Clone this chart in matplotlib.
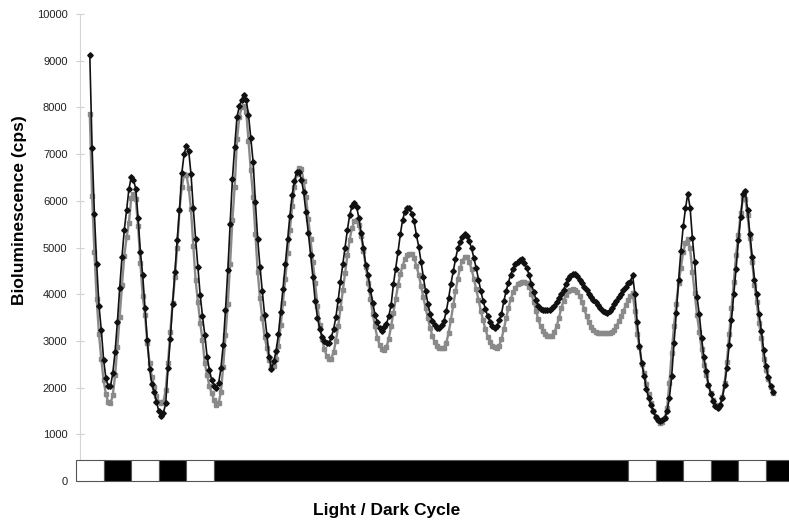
import numpy as np
import matplotlib
matplotlib.use("Agg")
import matplotlib.pyplot as plt

# hourly readings, hours 6..303 since start of recording
hours = np.arange(6, 304)

black_cps = [
    9120, 7130, 5720, 4640, 3750, 3230, 2600, 2200, 2030, 2030,
    2310, 2770, 3410, 4130, 4800, 5380, 5800, 6250, 6500, 6450,
    6250, 5630, 4900, 4410, 3700, 3010, 2400, 2070, 1900, 1700,
    1490, 1390, 1460, 1660, 2410, 3040, 3790, 4480, 5160, 5800,
    6590, 7000, 7180, 7070, 6570, 5840, 5180, 4590, 3980, 3530,
    3130, 2660, 2380, 2160, 2040, 2000, 2090, 2410, 2910, 3660,
    4510, 5500, 6460, 7160, 7800, 8020, 8160, 8270, 8160, 7840,
    7340, 6840, 5970, 5180, 4590, 4060, 3560, 3130, 2650, 2400,
    2560, 2780, 3140, 3620, 4120, 4640, 5180, 5680, 6130, 6430,
    6620, 6620, 6450, 6180, 5760, 5320, 4850, 4370, 3850, 3500,
    3250, 3090, 2990, 2960, 2960, 3080, 3250, 3510, 3880, 4270,
    4640, 5000, 5380, 5700, 5880, 5945, 5870, 5630, 5300, 4980,
    4620, 4420, 4100, 3820, 3560, 3400, 3270, 3220, 3300, 3370,
    3530, 3770, 4210, 4550, 4900, 5280, 5590, 5770, 5840, 5850,
    5720, 5560, 5270, 5020, 4700, 4375, 4060, 3800, 3570, 3420,
    3330, 3280, 3270, 3330, 3430, 3640, 3910, 4220, 4490, 4750,
    4980, 5110, 5230, 5290, 5240, 5130, 4980, 4770, 4560, 4310,
    4070, 3860, 3680, 3530, 3400, 3320, 3280, 3320, 3440, 3580,
    3850, 4060, 4250, 4420, 4550, 4640, 4700, 4730, 4745, 4670,
    4560, 4410, 4220, 4050, 3880, 3740, 3690, 3665, 3660, 3660,
    3670, 3700, 3750, 3840, 3920, 4000, 4090, 4220, 4330, 4400,
    4440, 4430, 4390, 4310, 4230, 4160, 4080, 4000, 3930, 3880,
    3830, 3770, 3700, 3650, 3610, 3600, 3640, 3710, 3800, 3860,
    3930, 4010, 4090, 4160, 4230, 4270, 4410, 4000, 3400, 2900,
    2520, 2250, 1970, 1780, 1620, 1500, 1380, 1300, 1280, 1300,
    1340, 1500, 1780, 2250, 2950, 3590, 4300, 4920, 5450, 5840,
    6150, 5850, 5200, 4690, 3940, 3570, 3060, 2650, 2350, 2060,
    1870, 1720, 1600, 1560, 1620, 1780, 2050, 2430, 2910, 3450,
    4010, 4550, 5150, 5650, 6150, 6200, 5800, 5280, 4800, 4310,
    4000, 3570, 3220, 2800, 2460, 2230, 2040, 1900,
]

gray_cps = [
    7850, 6100, 4900, 3900, 3140, 2610, 2160, 1860, 1690, 1660,
    1840, 2260, 2880, 3520, 4200, 4820, 5220, 5530, 6050, 6150,
    6030, 5450, 4660, 3960, 3560, 2950, 2520, 2220, 2020, 1810,
    1690, 1660, 1700, 1950, 2520, 3200, 3810, 4360, 5000, 5800,
    6290, 6570, 6550, 6280, 5820, 5040, 4300, 3840, 3390, 3020,
    2520, 2270, 2030, 1880, 1730, 1630, 1660, 1910, 2450, 3130,
    3790, 4650, 5590, 6300, 7320, 7790, 8000, 8020, 7910, 7270,
    6660, 6090, 5290, 4480, 3910, 3480, 3090, 2840, 2600, 2450,
    2470, 2620, 2900, 3330, 3820, 4330, 4880, 5380, 5880, 6300,
    6580, 6710, 6680, 6420, 6080, 5620, 5180, 4700, 4230, 3750,
    3350, 3030, 2820, 2680, 2610, 2620, 2760, 3000, 3320, 3700,
    4080, 4460, 4830, 5170, 5420, 5560, 5590, 5480, 5240, 4930,
    4590, 4240, 3900, 3580, 3310, 3070, 2910, 2820, 2810, 2870,
    3050, 3310, 3600, 3900, 4190, 4430, 4610, 4750, 4830, 4860,
    4860, 4780, 4610, 4420, 4180, 3940, 3700, 3480, 3270, 3100,
    2970, 2890, 2850, 2840, 2850, 2960, 3170, 3450, 3760, 4060,
    4330, 4560, 4720, 4800, 4790, 4690, 4530, 4330, 4110, 3880,
    3650, 3440, 3250, 3090, 2970, 2890, 2860, 2855, 2900, 3040,
    3250, 3480, 3700, 3890, 4040, 4140, 4210, 4250, 4268, 4268,
    4250, 4160, 4010, 3830, 3640, 3460, 3310, 3210, 3150, 3110,
    3100, 3110, 3180, 3320, 3500, 3700, 3860, 3980, 4060, 4100,
    4105, 4100, 4050, 3960, 3830, 3680, 3530, 3400, 3300, 3230,
    3190, 3170, 3160, 3160, 3160, 3160, 3170, 3190, 3240, 3320,
    3420, 3530, 3640, 3760, 3870, 3960, 4030, 3650, 3140, 2870,
    2510, 2320, 2080, 1860, 1660, 1500, 1380, 1300, 1240, 1260,
    1350, 1570, 2100, 2750, 3320, 3800, 4230, 4560, 4900, 5100,
    5190, 4980, 4480, 4020, 3560, 3200, 2820, 2480, 2260, 2060,
    1880, 1740, 1630, 1590, 1630, 1790, 2100, 2550, 3140, 3700,
    4260, 4850, 5270, 5730, 6050, 6040, 5690, 5200, 4690, 4200,
    3830, 3380, 3070, 2610, 2380, 2180, 2010, 1880,
]

# light / dark schedule (hours): edges and whether each block is dark
phase_edges = [0, 12, 24, 36, 48, 60, 240, 252, 264, 276, 288, 300, 312]
phase_dark = [0, 1, 0, 1, 0, 1, 0, 1, 0, 1, 0, 1]

y_ticks = list(range(0, 10001, 1000))

plt.rcParams["font.family"] = ["Liberation Sans", "DejaVu Sans"]

fig = plt.figure(figsize=(7.89, 5.23), dpi=100)
ax = fig.add_axes([80 / 789, 42 / 523, 709 / 789, 467 / 523])

ax.plot(hours, gray_cps, color="#8a8a8a", lw=1.7, marker="s", ms=3.0,
        mec="#8a8a8a", mfc="#8a8a8a", zorder=2)
ax.plot(hours, black_cps, color="#111111", lw=1.2, marker="D", ms=2.8,
        mec="#111111", mfc="#111111", zorder=3)

# light/dark bar along the bottom
starts = phase_edges[:-1]
widths = np.diff(phase_edges)
colors = ["black" if d else "white" for d in phase_dark]
ax.bar(starts, 440, width=widths, bottom=0, align="edge", color=colors,
       edgecolor="#555555", linewidth=0.8, clip_on=False, zorder=5)

ax.set_xlim(1.74, 310)
ax.set_ylim(0, 10000)
ax.set_yticks(y_ticks)
ax.set_xticks([])
ax.tick_params(axis="y", direction="inout", length=6, width=0.8,
               color="#d0d0d0", labelsize=8, labelcolor="#222222", pad=6)
for side in ["top", "right", "bottom"]:
    ax.spines[side].set_visible(False)
ax.spines["left"].set_color("#d5d5d5")
ax.spines["left"].set_linewidth(0.8)

fig.text(20 / 789, 1 - 210 / 523, "Bioluminescence (cps)", rotation=90,
         ha="center", va="center", fontsize=12.5, fontweight="bold")
fig.text(387 / 789, 1 - 511 / 523, "Light / Dark Cycle",
         ha="center", va="center", fontsize=12.5, fontweight="bold")

fig.savefig("out.png", dpi=100)
